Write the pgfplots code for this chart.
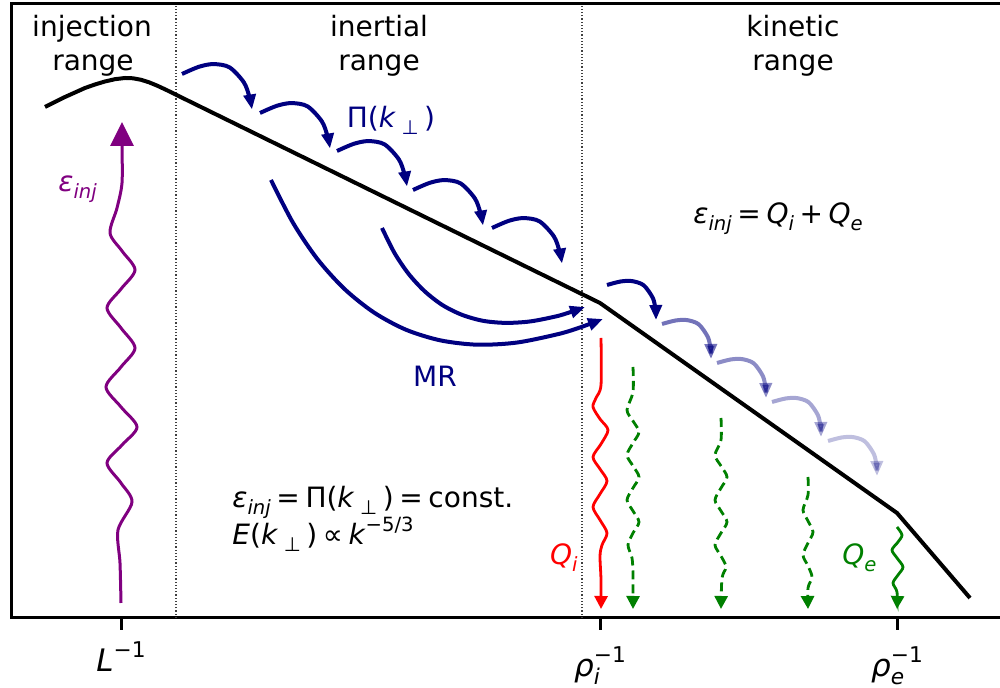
\documentclass[border=0pt]{standalone}
\usepackage{fontspec}
\setmainfont{DejaVu Sans}
\usepackage{pgfplots}
\pgfplotsset{compat=1.18}
\usetikzlibrary{arrows.meta}

\definecolor{navyc}{RGB}{0,0,128}
\definecolor{purplec}{RGB}{128,0,128}
\definecolor{greenc}{RGB}{0,128,0}
\definecolor{redc}{RGB}{255,0,0}

% mathtext-like pieces set in DejaVu Sans
\newcommand\mi[1]{\textit{#1}}
\newcommand\sub[1]{\raisebox{-0.24em}{\scalebox{0.7}{#1}}}
\newcommand\sups[1]{\raisebox{0.48em}{\scalebox{0.7}{#1}}}
\newcommand\eps{\mi{ε}\sub{\mi{inj}}}
\newcommand\kperp{\mi{k}\hspace{0.2em}\sub{⊥}\hspace{0.2em}}
\newcommand\op[1]{\hspace{0.2em}#1\hspace{0.2em}}
\newcommand\lbl{\fontsize{14}{17}\selectfont}
\newcommand\tlbl{\fontsize{15.5}{18}\selectfont}

\tikzset{
  cascade/.style={navyc, line width=2pt, smooth, -{Triangle[length=7.5pt,width=6pt]}},
  heat/.style={line width=1.4pt, smooth, -{Triangle[length=6.5pt,width=6.5pt]}},
}

\begin{document}
\begin{tikzpicture}
\begin{axis}[
  scale only axis, width=496pt, height=307pt,
  xmin=11, xmax=1003, ymin=70, ymax=684,
  clip=false,
  axis line style={line width=1.5pt, black},
  xtick={121,600,897},
  xticklabels={{\mi{L}\sups{−1}},
               {\raisebox{-2.5pt}{\mi{ρ}\rlap{\sub{\mi{i}}}\sups{−1}}},
               {\raisebox{-2.5pt}{\mi{ρ}\rlap{\sub{\mi{e}}}\sups{−1}}}},
  xtick pos=left,
  ytick=\empty,
  tick align=outside,
  major tick length=6pt,
  tick style={black, line width=1.5pt},
  xticklabel style={anchor=base, yshift=-21pt, font=\tlbl},
]
\coordinate (bbBL) at (axis cs:0,0);
\coordinate (bbTR) at (axis cs:1000,688);

% range separators
\addplot[black!75, line width=0.6pt, densely dotted] coordinates {(176,70) (176,684)};
\addplot[black!75, line width=0.6pt, densely dotted] coordinates {(582,70) (582,684)};

% energy spectrum
\addplot[black, line width=2pt, line join=round] coordinates {
  (45,581) (55,586) (65,591) (75,595.5) (85,600) (95,603.5) (105,606.5)
  (115,608.8) (125,610) (133,609.7) (141,608.2) (149,605.7) (157,602.4)
  (165,598.7) (173,594.8) (181,590.8) (600,385) (897,175) (970,90)};

% injection
\addplot[purplec, line width=1.5pt, smooth, -{Triangle[length=12pt,width=11.5pt]}] coordinates {
  (121,85) (120,125) (118,158) (132,186) (121,205) (107,225) (122,243)
  (137,261) (121,281) (106,301) (121,321) (135,340) (121,360) (107,380)
  (121,399) (135,418) (122,437) (110,455) (117,480) (122,505) (122,542) (122,566)};

% inertial-range cascade
\addplot[cascade] coordinates {(182,614) (198.9,621.2) (213.4,623.9) (229.4,620.7) (243.8,605.7) (249.5,590.8) (252,578.5)};
\addplot[cascade] coordinates {(260,575) (276.9,582.2) (291.4,584.9) (307.4,581.7) (321.8,566.7) (327.5,551.8) (330,539.5)};
\addplot[cascade] coordinates {(337,537) (353.9,544.2) (368.4,546.9) (384.4,543.7) (398.8,528.7) (404.5,513.8) (407,501.5)};
\addplot[cascade] coordinates {(413,498) (429.9,505.2) (444.4,507.9) (460.4,504.7) (474.8,489.7) (480.5,474.8) (483,462.5)};
\addplot[cascade] coordinates {(492,460) (508.9,467.2) (523.4,469.9) (539.4,466.7) (553.8,451.7) (559.5,436.8) (562,424.5)};

% kinetic-range cascade, fading
\addplot[cascade] coordinates {(607,403) (620.6,406.5) (632,406.9) (643.75,402.65) (653,389.6) (655.5,377.6) (656,368)};
\addplot[cascade, opacity=0.55] coordinates {(662,364) (675.6,367.5) (687,367.9) (698.75,363.65) (708,350.6) (710.5,338.6) (711,329)};
\addplot[cascade, opacity=0.45] coordinates {(717,325) (730.6,328.5) (742,328.9) (753.75,324.65) (763,311.6) (765.5,299.6) (766,290)};
\addplot[cascade, opacity=0.35] coordinates {(772,286) (785.6,289.5) (797,289.9) (808.75,285.65) (818,272.6) (820.5,260.6) (821,251)};
\addplot[cascade, opacity=0.25] coordinates {(828,247) (841.6,250.5) (853,250.9) (864.75,246.65) (874,233.6) (876.5,221.6) (877,212)};

% magnetic reconnection shortcuts
\addplot[cascade] coordinates {(271,508) (293,465.2) (317.5,428.8) (344.6,398.9) (374.1,375.4) (406,358.25)
  (440.5,347.6) (477.4,343.3) (516.7,345.4) (558.6,354) (580.5,360.7) (603,369)};
\addplot[cascade] coordinates {(382,460) (394.5,435) (408.7,414) (424.7,396.7) (442.3,383) (461.75,373.25)
  (482.9,367.2) (505.85,365.1) (530.5,366.6) (556.85,371.8) (570.7,376) (585,381)};

% ion heating
\addplot[heat, redc] coordinates {
  (601,350) (601,303) (596,290) (593,281) (600,269) (608,258) (601,244) (593,231)
  (600,219) (607,207) (600,194) (593,181) (600,168) (607,155) (602,143) (600,132) (601,108) (601,79)};

% electron heating
\addplot[heat, greenc, dash pattern=on 4.5pt off 2.5pt] coordinates {
  (633,321) (633,296) (627,278) (633,267) (639,256) (633,245) (627,233) (633,222) (639,211)
  (633,200) (627,188) (633,177) (639,166) (633,155) (628,143) (632,130) (633,113) (633,79)};
\addplot[heat, greenc, dash pattern=on 4.5pt off 2.5pt] coordinates {
  (721,270) (721,248) (715,233) (721,222) (727,211) (721,200) (715,188) (721,177)
  (727,166) (721,155) (715,143) (721,132) (726,121) (722,110) (721,79)};
\addplot[heat, greenc, dash pattern=on 4.5pt off 2.5pt] coordinates {
  (808,211) (808,193) (803,178) (808,167) (813,156) (808,145) (803,133) (808,122) (812,111) (808,100) (808,79)};
\addplot[heat, greenc] coordinates {
  (897,161) (902,153) (898,146) (892,138) (897,130) (903,121) (898,113) (893,105) (897,96) (897,79)};

% labels
\node[anchor=base, font=\lbl] at (axis cs:92,651) {injection};
\node[anchor=base, font=\lbl] at (axis cs:93,617) {range};
\node[anchor=base, font=\lbl] at (axis cs:379,651) {inertial};
\node[anchor=base, font=\lbl] at (axis cs:379,617) {range};
\node[anchor=base, font=\lbl] at (axis cs:793,651) {kinetic};
\node[anchor=base, font=\lbl] at (axis cs:793,617) {range};

\node[anchor=base, font=\lbl, text=navyc] at (axis cs:391,560) {Π(\kperp)};
\node[anchor=base, font=\lbl, text=navyc] at (axis cs:435,301) {MR};
\node[anchor=base west, font=\lbl, text=purplec, inner sep=0pt] at (axis cs:58,496) {\eps};
\node[anchor=base west, font=\lbl, inner sep=0pt] at (axis cs:693,464) {\eps\op{=}\mi{Q}\sub{\mi{i}}\op{+}\mi{Q}\sub{\mi{e}}};
\node[anchor=base west, font=\lbl, inner sep=0pt] at (axis cs:232,180) {\eps\op{=}Π(\kperp)\op{=}const.};
\node[anchor=base west, font=\lbl, inner sep=0pt] at (axis cs:232,143) {\mi{E}(\kperp)\op{∝}\mi{k}\sups{−5/3}};
\node[anchor=base east, font=\lbl, text=redc, inner sep=0pt] at (axis cs:578,123) {\mi{Q}\sub{\mi{i}}};
\node[anchor=base west, font=\lbl, text=greenc, inner sep=0pt] at (axis cs:842,123) {\mi{Q}\sub{\mi{e}}};
\end{axis}
\pgfresetboundingbox
\path[use as bounding box] (bbBL) rectangle (bbTR);
\end{tikzpicture}
\end{document}
